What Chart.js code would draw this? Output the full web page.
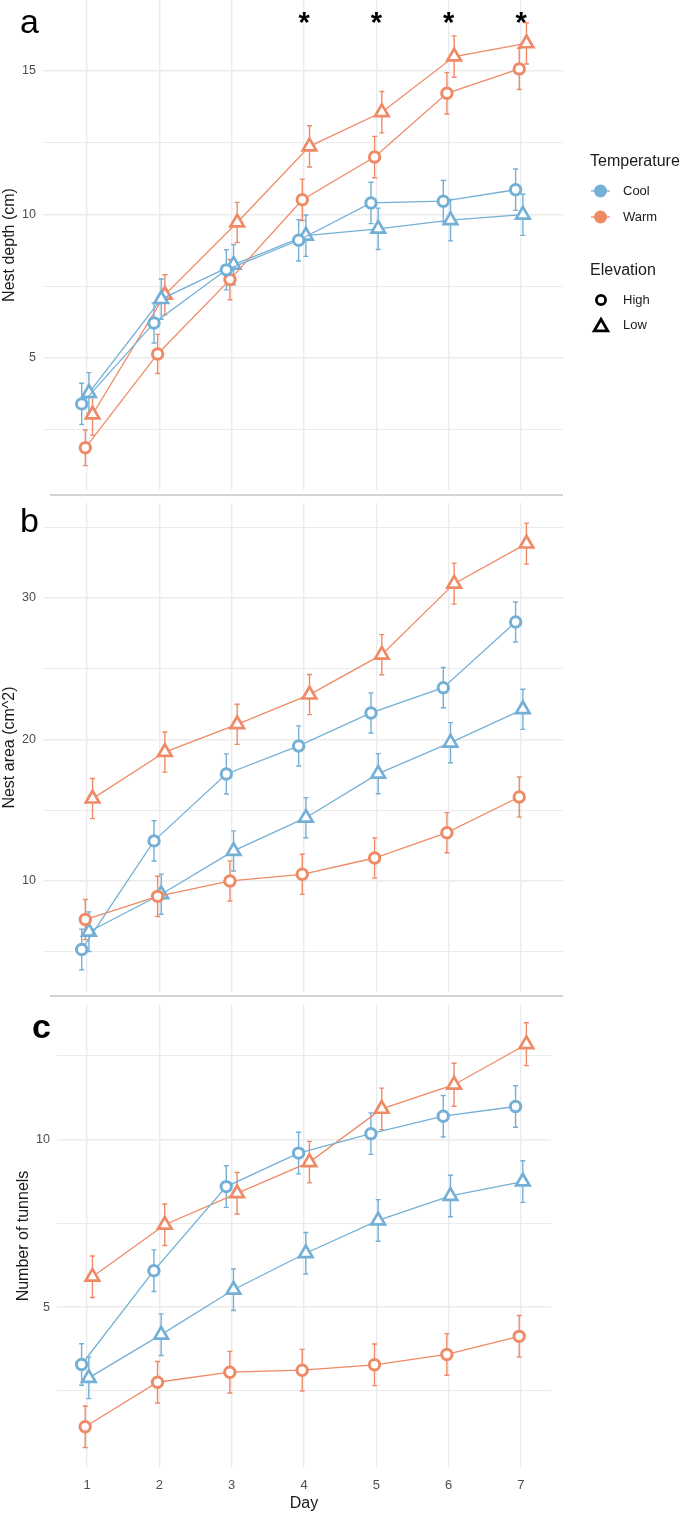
<!DOCTYPE html>
<html>
<head>
<meta charset="utf-8">
<script src="https://cdn.jsdelivr.net/npm/chart.js@4.4.0/dist/chart.umd.min.js"></script>
<style>
  html, body { margin: 0; padding: 0; background: #fff; }
  #wrap { position: relative; width: 685px; height: 1518px; }
  canvas { position: absolute; left: 0; }
</style>
</head>
<body>
<div id="wrap">
  <canvas id="chartA" width="685" height="498" style="top:0"></canvas>
  <canvas id="chartB" width="685" height="502" style="top:498px"></canvas>
  <canvas id="chartC" width="685" height="518" style="top:1000px"></canvas>
</div>
<script>
// Nids : profondeur, surface, nombre de tunnels — jours 1 à 7

const days = [1, 2, 3, 4, 5, 6, 7];
const starDays = [4, 5, 6, 7];

// a — Nest depth (cm)
const depthCoolHigh = [3.40, 6.22, 8.07, 9.10, 10.40, 10.46, 10.86];
const depthCoolLow  = [3.78, 7.05, 8.25, 9.26, 9.50, 9.80, 9.99];
const depthWarmHigh = [1.87, 5.14, 7.73, 10.51, 12.00, 14.22, 15.07];
const depthWarmLow  = [3.03, 7.20, 9.72, 12.37, 13.56, 15.50, 15.96];
const depthErrCoolHigh = [0.72, 0.70, 0.70, 0.72, 0.72, 0.72, 0.72];
const depthErrCoolLow  = [0.71, 0.70, 0.70, 0.72, 0.72, 0.72, 0.72];
const depthErrWarmHigh = [0.62, 0.68, 0.70, 0.72, 0.72, 0.72, 0.72];
const depthErrWarmLow  = [0.72, 0.70, 0.70, 0.72, 0.72, 0.72, 0.72];
const depthTicks  = [2.5, 5, 7.5, 10, 12.5, 15];
const depthLabels = [5, 10, 15];

// b — Nest area (cm^2)
const areaCoolHigh = [5.14, 12.82, 17.55, 19.53, 21.86, 23.65, 28.29];
const areaCoolLow  = [6.40, 9.05, 12.11, 14.46, 17.57, 19.76, 22.12];
const areaWarmHigh = [7.26, 8.90, 9.99, 10.46, 11.61, 13.40, 15.92];
const areaWarmLow  = [15.81, 19.10, 21.06, 23.16, 25.98, 31.00, 33.83];
const areaErrCoolHigh = [1.43, 1.42, 1.42, 1.42, 1.42, 1.42, 1.41];
const areaErrCoolLow  = [1.40, 1.42, 1.42, 1.42, 1.42, 1.42, 1.42];
const areaErrWarmHigh = [1.42, 1.42, 1.42, 1.42, 1.42, 1.42, 1.42];
const areaErrWarmLow  = [1.42, 1.42, 1.42, 1.42, 1.42, 1.45, 1.45];
const areaTicks  = [5, 10, 15, 20, 25, 30, 35];
const areaLabels = [10, 20, 30];

// c — Number of tunnels
const tunCoolHigh = [3.29, 6.09, 8.60, 9.60, 10.18, 10.70, 10.99];
const tunCoolLow  = [2.89, 4.18, 5.52, 6.61, 7.59, 8.32, 8.75];
const tunWarmHigh = [1.43, 2.76, 3.06, 3.12, 3.28, 3.59, 4.13];
const tunWarmLow  = [5.91, 7.46, 8.40, 9.33, 10.92, 11.64, 12.85];
const tunErrCoolHigh = [0.62, 0.62, 0.62, 0.62, 0.62, 0.62, 0.62];
const tunErrCoolLow  = [0.62, 0.62, 0.62, 0.62, 0.62, 0.62, 0.62];
const tunErrWarmHigh = [0.62, 0.62, 0.62, 0.62, 0.62, 0.62, 0.62];
const tunErrWarmLow  = [0.62, 0.62, 0.62, 0.62, 0.62, 0.64, 0.64];
const tunTicks  = [2.5, 5, 7.5, 10, 12.5];
const tunLabels = [5, 10];

const tempNames = ["Cool", "Warm"];
const elevNames = ["High", "Low"];

const BLUE = "#74b0d6";
const ORANGE = "#ef8a66";
const GRID = "#ebebeb";
const TICK = "#4d4d4d";
const INK = "#1a1a1a";
const FONT = "'Liberation Sans', Arial, sans-serif";

Chart.defaults.font.family = FONT;

// décalage horizontal façon position_dodge
const dodge = { coolHigh: -0.075, warmHigh: -0.025, coolLow: 0.025, warmLow: 0.075 };

function series(label, values, errors, color, shape, offset) {
  return {
    label: label,
    data: days.map((d, i) => ({ x: d + offset, y: values[i] })),
    errors: errors,
    borderColor: color,
    borderWidth: 1.3,
    pointStyle: shape,
    pointRadius: shape === "triangle" ? 7.8 : 5.2,
    pointBorderWidth: shape === "triangle" ? 2.7 : 3,
    pointBorderColor: color,
    pointBackgroundColor: "#fff",
    tension: 0
  };
}

function fourSeries(ch, cl, wh, wl, ech, ecl, ewh, ewl) {
  return [
    series("Cool High", ch, ech, BLUE, "circle", dodge.coolHigh),
    series("Warm High", wh, ewh, ORANGE, "circle", dodge.warmHigh),
    series("Cool Low", cl, ecl, BLUE, "triangle", dodge.coolLow),
    series("Warm Low", wl, ewl, ORANGE, "triangle", dodge.warmLow)
  ];
}

// barres d'erreur (moyenne ± erreur)
const errorBars = {
  id: "errorBars",
  beforeDatasetsDraw(chart) {
    const ctx = chart.ctx;
    const y = chart.scales.y;
    ctx.save();
    chart.data.datasets.forEach((ds, i) => {
      const meta = chart.getDatasetMeta(i);
      ctx.strokeStyle = ds.borderColor;
      ctx.lineWidth = 1.4;
      meta.data.forEach((pt, j) => {
        const v = ds.data[j].y, e = ds.errors[j];
        const top = y.getPixelForValue(v + e);
        const bot = y.getPixelForValue(v - e);
        ctx.beginPath();
        ctx.moveTo(pt.x, top); ctx.lineTo(pt.x, bot);
        ctx.moveTo(pt.x - 2.5, top); ctx.lineTo(pt.x + 2.5, top);
        ctx.moveTo(pt.x - 2.5, bot); ctx.lineTo(pt.x + 2.5, bot);
        ctx.stroke();
      });
    });
    ctx.restore();
  }
};

function drawLegend(ctx) {
  ctx.textAlign = "left";
  ctx.textBaseline = "middle";
  ctx.fillStyle = INK;
  ctx.font = "16px " + FONT;
  ctx.fillText("Temperature", 590, 162);
  ctx.fillText("Elevation", 590, 271);

  ctx.font = "13px " + FONT;
  [BLUE, ORANGE].forEach((col, i) => {
    const y = 191 + i * 26;
    ctx.strokeStyle = col;
    ctx.lineWidth = 1.3;
    ctx.beginPath(); ctx.moveTo(591, y); ctx.lineTo(610, y); ctx.stroke();
    ctx.fillStyle = col;
    ctx.beginPath(); ctx.arc(600.5, y, 6.5, 0, Math.PI * 2); ctx.fill();
    ctx.fillStyle = INK;
    ctx.fillText(tempNames[i], 623, y);
  });

  ctx.strokeStyle = "#000";
  ctx.lineWidth = 2.8;
  ctx.beginPath(); ctx.arc(601, 300, 4.6, 0, Math.PI * 2); ctx.stroke();
  const r = 7.8, cy = 327;
  ctx.beginPath();
  ctx.moveTo(601, cy - r);
  ctx.lineTo(601 + r * Math.sin(2 * Math.PI / 3), cy - r * Math.cos(2 * Math.PI / 3));
  ctx.lineTo(601 + r * Math.sin(4 * Math.PI / 3), cy - r * Math.cos(4 * Math.PI / 3));
  ctx.closePath(); ctx.stroke();
  ctx.fillStyle = INK;
  ctx.fillText(elevNames[0], 623, 300);
  ctx.fillText(elevNames[1], 623, 325);
}

const decor = {
  id: "decor",
  afterDraw(chart, args, opt) {
    const ctx = chart.ctx;
    const area = chart.chartArea;
    ctx.save();
    ctx.fillStyle = "#000";
    ctx.textAlign = "left";
    ctx.textBaseline = "alphabetic";
    ctx.font = (opt.letterWeight || "normal") + " 34px " + FONT;
    ctx.fillText(opt.letter, opt.letterX, opt.letterY);
    if (opt.sepY) {
      ctx.strokeStyle = "#c6c6c6";
      ctx.lineWidth = 1.5;
      ctx.beginPath(); ctx.moveTo(50, opt.sepY); ctx.lineTo(area.right, opt.sepY); ctx.stroke();
    }
    if (opt.stars) {
      ctx.font = "bold 29px " + FONT;
      ctx.textAlign = "center";
      opt.stars.forEach(d => ctx.fillText("*", chart.scales.x.getPixelForValue(d), 32));
    }
    if (opt.legend) drawLegend(ctx);
    ctx.restore();
  }
};

function makeChart(canvasId, o) {
  return new Chart(document.getElementById(canvasId), {
    type: "line",
    data: { datasets: o.datasets },
    options: {
      responsive: false,
      animation: false,
      events: [],
      layout: { autoPadding: false, padding: { top: o.padTop, right: 685 - o.right, bottom: 0, left: 0 } },
      scales: {
        x: {
          type: "linear",
          min: o.xMin,
          max: o.xMax,
          afterBuildTicks: s => { s.ticks = days.map(v => ({ value: v })); },
          afterFit: s => { s.height = o.xHeight; s.paddingLeft = 0; s.paddingRight = 0; },
          grid: { color: GRID, lineWidth: 1.4, drawTicks: false },
          border: { display: false },
          ticks: { display: o.showX, padding: 11, color: TICK, font: { size: 13 } },
          title: { display: o.showX, text: "Day", color: INK, font: { size: 16 }, padding: { top: 0, bottom: 5 } }
        },
        y: {
          type: "linear",
          min: o.yMin,
          max: o.yMax,
          afterBuildTicks: s => { s.ticks = o.yTicks.map(v => ({ value: v })); },
          afterFit: s => { s.width = o.left; s.paddingTop = 0; s.paddingBottom = 0; },
          grid: {
            color: GRID,
            lineWidth: c => (c.tick && o.yLabels.includes(c.tick.value) ? 1.4 : 1),
            drawTicks: false
          },
          border: { display: false },
          ticks: {
            padding: 7,
            color: TICK,
            font: { size: 12.5 },
            callback: v => (o.yLabels.includes(v) ? String(v) : "")
          },
          title: { display: true, text: o.yTitle, color: INK, font: { size: 16 }, padding: { top: o.titlePad, bottom: 0 } }
        }
      },
      plugins: { legend: { display: false }, tooltip: { enabled: false }, decor: o.decor }
    },
    plugins: [errorBars, decor]
  });
}

makeChart("chartA", {
  datasets: fourSeries(depthCoolHigh, depthCoolLow, depthWarmHigh, depthWarmLow,
    depthErrCoolHigh, depthErrCoolLow, depthErrWarmHigh, depthErrWarmLow),
  yMin: 0.4, yMax: 17.47, yTicks: depthTicks, yLabels: depthLabels,
  yTitle: "Nest depth (cm)", titlePad: 0,
  xMin: 0.39, xMax: 7.58, left: 43, right: 563, padTop: 0, xHeight: 8, showX: false,
  decor: { letter: "a", letterX: 20, letterY: 33, sepY: 495, stars: starDays, legend: true }
});

makeChart("chartB", {
  datasets: fourSeries(areaCoolHigh, areaCoolLow, areaWarmHigh, areaWarmLow,
    areaErrCoolHigh, areaErrCoolLow, areaErrWarmHigh, areaErrWarmLow),
  yMin: 2.14, yMax: 36.7, yTicks: areaTicks, yLabels: areaLabels,
  yTitle: "Nest area (cm^2)", titlePad: 0,
  xMin: 0.39, xMax: 7.58, left: 43, right: 563, padTop: 5, xHeight: 8, showX: false,
  decor: { letter: "b", letterX: 20, letterY: 34, sepY: 498 }
});

makeChart("chartC", {
  datasets: fourSeries(tunCoolHigh, tunCoolLow, tunWarmHigh, tunWarmLow,
    tunErrCoolHigh, tunErrCoolLow, tunErrWarmHigh, tunErrWarmLow),
  yMin: 0.23, yMax: 14.02, yTicks: tunTicks, yLabels: tunLabels,
  yTitle: "Number of tunnels", titlePad: 14,
  xMin: 0.585, xMax: 7.415, left: 57, right: 551, padTop: 5, xHeight: 51, showX: true,
  decor: { letter: "c", letterX: 32, letterY: 38, letterWeight: "bold" }
});
</script>
</body>
</html>
